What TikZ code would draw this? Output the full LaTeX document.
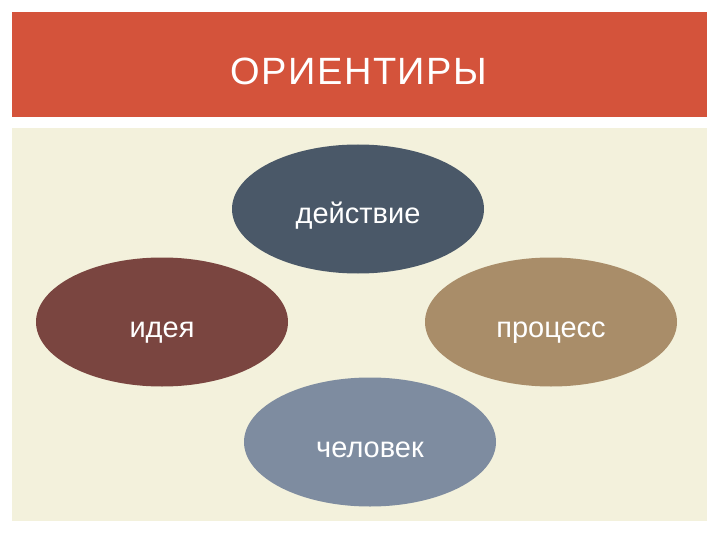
\documentclass[tikz,border=0pt]{standalone}
\usepackage{fontspec}
\setmainfont{Liberation Sans}
\newfontfamily\titlefont[LetterSpace=4]{Liberation Sans}
\usetikzlibrary{shapes.geometric}

\definecolor{bandred}{HTML}{D4533B}
\definecolor{panelcream}{HTML}{F3F1DC}
\definecolor{slateblue}{HTML}{4A5868}
\definecolor{rustbrown}{HTML}{7A4540}
\definecolor{tanbrown}{HTML}{A98D69}
\definecolor{greyblue}{HTML}{7E8CA0}

\begin{document}
\begin{tikzpicture}[x=1pt,y=-1pt,thick,
    main node/.style={ellipse,minimum width=252pt,minimum height=129pt,inner sep=0pt,text height=30pt,text depth=0pt,text=white,font=\fontsize{29}{30}\selectfont}]

            \useasboundingbox (0,0) rectangle (720,540);
            \fill[white] (0,0) rectangle (720,540);
            \fill[bandred] (12,12) rectangle (707,117);
            \fill[panelcream] (12,128) rectangle (707,521);

            \node[text=white,font=\titlefont\fontsize{38}{40}\selectfont] (title) at (359,71) {ОРИЕНТИРЫ};

            \node[main node, fill=slateblue] (1) at (358,209) {действие};
            \node[main node, fill=rustbrown] (2) at (162,322) {идея};
            \node[main node, fill=tanbrown] (3) at (551,322) {процесс};
            \node[main node, fill=greyblue] (4) at (370,442) {человек};

        \end{tikzpicture}
\end{document}
